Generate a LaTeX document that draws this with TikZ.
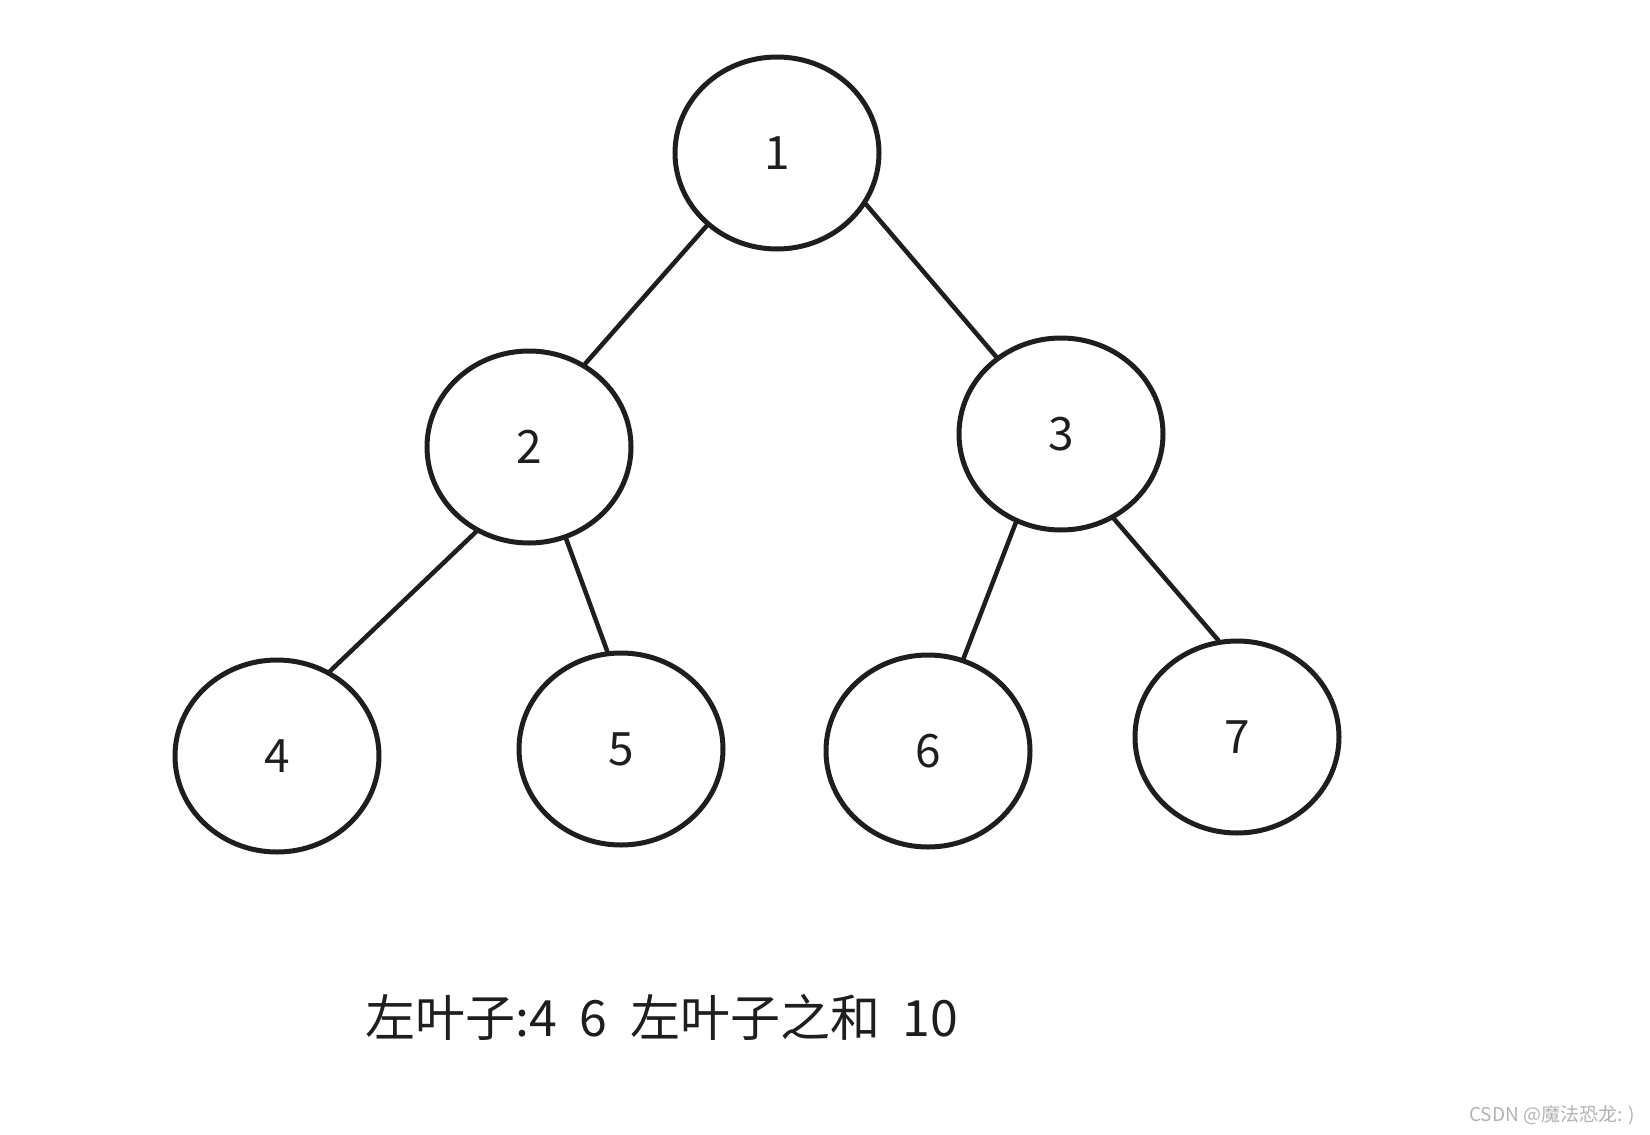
\documentclass[tikz,border=0pt]{standalone}
\usepackage{fontspec}
\setmainfont{Noto Sans CJK SC}
\usepackage{tikz}
\usetikzlibrary{shapes.geometric}

\definecolor{ink}{HTML}{1E1E1E}

\begin{document}
\begin{tikzpicture}[x=1pt,y=-1pt,
    treenode/.style={draw=ink,line width=5pt,ellipse,inner sep=0pt,
      minimum width=204pt,minimum height=192pt,text=ink,
      font=\fontsize{46}{50}\selectfont},
    edge/.style={draw=ink,line width=4.5pt,line cap=round}]
  \useasboundingbox (0,0) rectangle (1650,1135);

  % tree nodes
  \foreach \n/\x/\y in {1/777/153, 2/529/447, 3/1061/434,
                        4/277/756, 5/621/749, 6/928/751, 7/1237/737} {
    \node[treenode] (n\n) at (\x,\y) {\n};
  }

  % branches
  \foreach \a/\b/\s/\e in {1/2/-134/56, 1/3/-30/130,
                            2/4/-122/58, 2/5/-68/98,
                            3/6/-117/69, 3/7/-58/101} {
    \draw[edge] (n\a.\s) -- (n\b.\e);
  }

  \node[text=ink,font=\fontsize{50}{60}\selectfont] (sum) at (662,1017)
    {左叶子:4 \ 6 \ 左叶子之和 \ 10};
  \node[anchor=east,text=gray!60,font=\fontsize{19}{22}\selectfont] (mark)
    at (1638,1115) {CSDN @魔法恐龙: )};
\end{tikzpicture}
\end{document}
